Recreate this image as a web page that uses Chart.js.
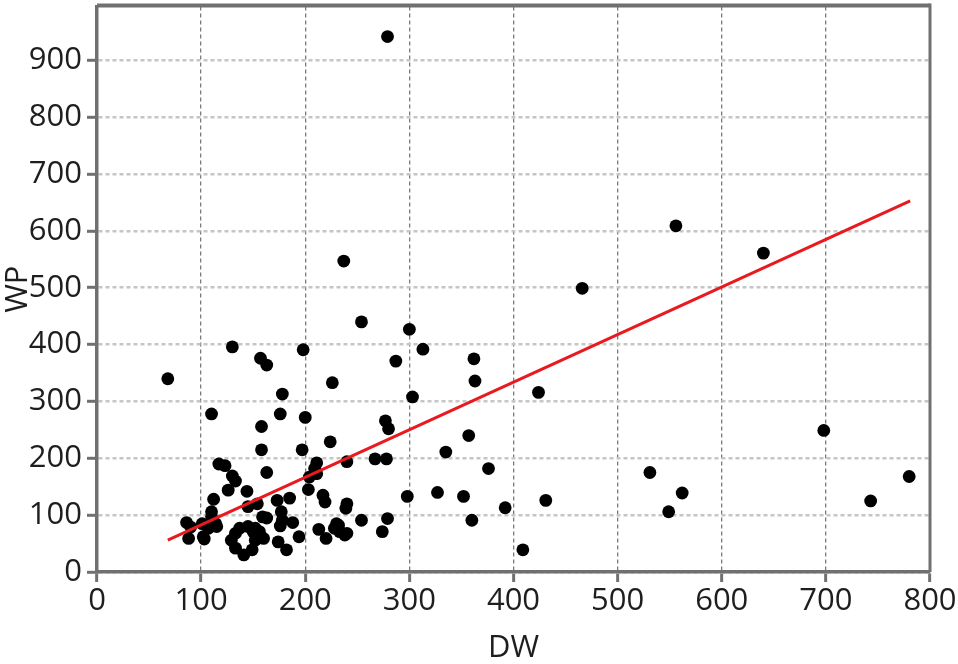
<!DOCTYPE html>
<html>
<head>
<meta charset="utf-8">
<title>DW vs WP</title>
<script src="https://cdn.jsdelivr.net/npm/chart.js@4.4.1/dist/chart.umd.min.js"></script>
<style>
    html, body { margin: 0; padding: 0; background: #fff; }
    #wrap { width: 958px; height: 664px; }
</style>
</head>
<body>
<div id="wrap"><canvas id="chartDW"></canvas></div>
<script>
/* ── Datos ────────────────────────────────────────────── */
var dwValues = [
    68, 130, 157, 163, 198, 178, 110, 176, 200, 158,
    158, 197, 163, 117, 123, 130, 133, 126, 144, 112,
    203, 211, 173, 185, 154, 145, 159, 163, 177, 178,
    176, 188, 86, 90, 110, 114, 107, 88, 103, 133,
    137, 145, 150, 152, 149, 141, 133, 129, 152, 156,
    160, 174, 182, 194, 213, 224, 277, 280, 267, 278,
    240, 209, 217, 219, 240, 239, 220, 232, 233, 240,
    228, 254, 274, 279, 101, 102, 226, 303, 204, 298,
    230, 238, 156, 110, 115, 287, 300, 313, 254, 237,
    279, 466, 556, 640, 362, 363, 424, 698, 357, 335,
    376, 327, 352, 360, 392, 431, 409, 531, 562, 549,
    743, 780, 211
];
var wpValues = [
    340, 396, 376, 364, 391, 313, 278, 278, 272, 256,
    215, 215, 175, 190, 187, 169, 160, 144, 142, 128,
    145, 192, 126, 130, 120, 115, 97, 95, 106, 91,
    81, 87, 87, 79, 97, 85, 77, 59, 58, 68,
    77, 80, 71, 56, 39, 30, 42, 56, 77, 71,
    59, 53, 39, 62, 75, 229, 266, 252, 199, 199,
    194, 182, 135, 123, 120, 112, 59, 82, 71, 68,
    77, 91, 71, 94, 85, 62, 333, 308, 167, 133,
    85, 65, 65, 106, 80, 371, 427, 392, 440, 547,
    942, 499, 609, 561, 375, 336, 316, 249, 240, 211,
    182, 140, 133, 91, 113, 126, 39, 175, 139, 106,
    125, 168, 173
];

/* recta de ajuste (extremos leidos) */
var fitDW = [68, 781];
var fitWP = [56, 653];

var xTicks = [0, 100, 200, 300, 400, 500, 600, 700, 800];
var yTicks = [0, 100, 200, 300, 400, 500, 600, 700, 800, 900];

/* ── Estilos ──────────────────────────────────────────── */
var AXIS  = '#707070';
var GRIDX = '#7a7a7a';
var GRIDY = '#c6c6c6';
var TEXT  = '#1e1e1e';
var RED   = '#e8191f';
var FONT  = '"Open Sans", "Noto Sans", sans-serif';

function toPoints(xs, ys) {
    return xs.map(function (x, i) { return { x: x, y: ys[i] }; });
}

/* marco gris arriba y a la derecha */
var framePlugin = {
    id: 'frame',
    afterDraw: function (chart) {
        var a = chart.chartArea, c = chart.ctx;
        c.save();
        c.strokeStyle = AXIS;
        c.lineWidth = 4;
        c.beginPath();
        c.moveTo(a.left, a.top - 1);
        c.lineTo(a.right, a.top - 1);
        c.stroke();
        c.lineWidth = 3;
        c.beginPath();
        c.moveTo(a.right, a.top - 3);
        c.lineTo(a.right, a.bottom);
        c.stroke();
        c.restore();
    }
};

new Chart(document.getElementById('chartDW'), {
    type: 'scatter',
    data: {
        datasets: [
            {
                label: 'WP',
                data: toPoints(dwValues, wpValues),
                backgroundColor: '#000',
                borderColor: '#000',
                pointRadius: 6.4,
                borderWidth: 0,
                order: 2
            },
            {
                type: 'line',
                label: 'Ajuste',
                data: toPoints(fitDW, fitWP),
                borderColor: RED,
                borderWidth: 3,
                pointRadius: 0,
                fill: false,
                tension: 0,
                order: 1
            }
        ]
    },
    options: {
        responsive: true,
        maintainAspectRatio: false,
        animation: false,
        devicePixelRatio: 1,
        layout: { padding: { top: 0, right: 28, left: 0, bottom: 0 } },
        plugins: {
            legend: { display: false },
            tooltip: { enabled: false }
        },
        scales: {
            x: {
                type: 'linear',
                min: 0,
                max: 800,
                afterBuildTicks: function (axis) {
                    axis.ticks = xTicks.map(function (v) { return { value: v }; });
                },
                afterFit: function (scale) {
                    scale.height = 92;
                    scale.paddingLeft = 0;
                    scale.paddingRight = 0;
                },
                grid: {
                    color: GRIDX,
                    lineWidth: 1.3,
                    drawTicks: true,
                    tickLength: 10,
                    tickColor: AXIS,
                    tickWidth: 3,
                    tickBorderDash: []
                },
                border: { display: true, color: AXIS, width: 3.5, dash: [4, 3] },
                ticks: {
                    color: TEXT,
                    font: { family: FONT, size: 31 },
                    padding: 1,
                    maxRotation: 0
                },
                title: {
                    display: true,
                    text: 'DW',
                    color: TEXT,
                    font: { family: FONT, size: 31 },
                    padding: { top: 0, bottom: -3 }
                }
            },
            y: {
                type: 'linear',
                min: 0,
                max: 995,
                afterBuildTicks: function (axis) {
                    axis.ticks = yTicks.map(function (v) { return { value: v }; });
                },
                afterFit: function (scale) {
                    scale.width = 97;
                    scale.paddingTop = 0;
                    scale.paddingBottom = 0;
                },
                grid: {
                    color: GRIDY,
                    lineWidth: 2.6,
                    drawTicks: true,
                    tickLength: 10,
                    tickColor: AXIS,
                    tickWidth: 3,
                    tickBorderDash: []
                },
                border: { display: true, color: AXIS, width: 3.5, dash: [4, 3] },
                ticks: {
                    color: TEXT,
                    font: { family: FONT, size: 31 },
                    padding: 5
                },
                title: {
                    display: true,
                    text: 'WP',
                    color: TEXT,
                    font: { family: FONT, size: 31 },
                    padding: { top: 0, bottom: 0 }
                }
            }
        }
    },
    plugins: [framePlugin]
});
</script>
</body>
</html>
